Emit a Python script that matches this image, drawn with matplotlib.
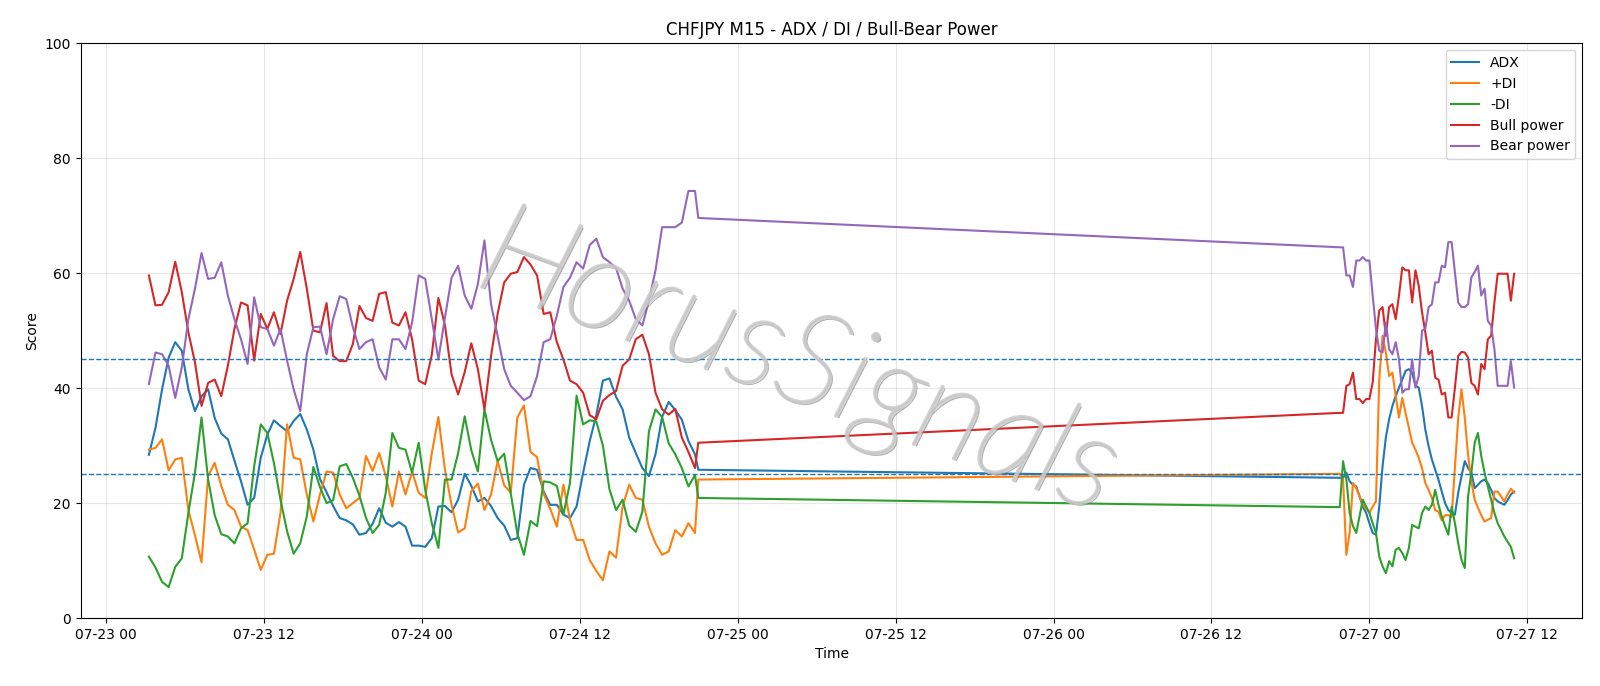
import matplotlib
matplotlib.use("Agg")
import matplotlib.pyplot as plt
import matplotlib.dates as mdates
import matplotlib.patheffects as pe
import pandas as pd

# time axis: thinned M15 bars for the first block, full M15 after the weekend gap
t1 = pd.date_range("2025-07-23 03:15", "2025-07-24 20:45", freq="30min")
t1 = t1.append(pd.DatetimeIndex(["2025-07-24 21:00"]))
t2 = pd.date_range("2025-07-26 21:45", "2025-07-27 11:00", freq="15min")
times = t1.append(t2)

adx = [28.4, 33.1, 39.8, 45.3, 48.0, 46.5, 39.8, 36.0, 38.6, 39.8, 34.8, 32.1, 31.1, 27.4, 23.8, 19.7, 20.9, 27.9, 31.9, 34.4, 33.4, 32.5,
       34.3, 35.5, 32.8, 29.3, 24.2, 21.9, 19.5, 17.4, 17.0, 16.3, 14.5, 14.8, 16.4, 19.1, 16.6, 15.9, 16.7, 15.9, 12.6, 12.6, 12.4,
       13.9, 19.4, 19.5, 18.4, 20.6, 25.1, 23.0, 20.3, 20.9, 19.5, 17.4, 16.1, 13.6, 13.9, 23.2, 26.1, 25.8, 22.0, 19.7, 19.7, 18.0,
       17.4, 19.4, 25.3, 30.8, 35.3, 41.3, 41.7, 38.5, 36.3, 31.4, 28.7, 26.1, 24.7, 28.5, 35.0, 37.6, 36.2, 34.5, 30.8, 28.5, 25.8,
       24.4, 24.4, 25.3, 23.8, 23.2, 22.9, 21.2, 19.4, 18.3, 16.5, 14.8, 14.5, 19.4, 26.4, 31.4, 34.6, 36.9, 38.6, 40.1, 41.5,
       43.0, 43.3, 42.7, 40.4, 40.1, 36.9, 32.8, 29.9, 27.6, 25.8, 24.1, 22.0, 20.0, 18.8, 18.3, 18.0, 21.8, 24.7, 27.3, 26.1,
       25.3, 22.6, 23.2, 23.8, 24.1, 23.5, 22.3, 20.9, 20.3, 20.0, 19.7, 20.5, 21.5, 22.0]

plus_di = [29.3, 29.6, 31.1, 25.7, 27.6, 27.9, 18.8, 14.4, 9.7, 24.7, 27.0, 23.0, 19.7, 18.8, 15.9, 15.3, 11.9, 8.4, 11.0, 11.2, 18.3, 33.7,
           27.9, 27.6, 21.5, 16.8, 21.5, 25.5, 25.3, 21.5, 19.1, 20.0, 20.9, 28.2, 25.6, 28.7, 24.7, 19.4, 25.5, 21.5, 25.5, 21.8, 20.9,
           28.7, 35.0, 25.8, 19.7, 14.9, 15.6, 22.1, 23.4, 18.8, 21.5, 27.3, 23.1, 21.8, 34.9, 37.0, 28.9, 28.0, 21.6, 19.0, 15.9, 23.2,
           17.1, 13.6, 13.6, 10.1, 8.2, 6.6, 11.6, 10.5, 19.4, 23.2, 20.9, 20.6, 15.9, 13.0, 11.0, 11.6, 15.3, 14.2, 16.5, 14.8, 24.1,
           25.1, 24.1, 11.0, 14.8, 23.5, 22.6, 21.2, 19.7, 19.1, 18.3, 19.4, 20.3, 41.5, 49.1, 46.2, 42.1, 42.7, 38.6, 34.9, 38.3,
           35.7, 33.1, 30.5, 29.3, 27.9, 26.1, 23.5, 22.3, 20.9, 18.8, 18.5, 17.0, 17.9, 17.9, 17.6, 26.1, 34.8, 39.8, 34.8, 28.4,
           23.8, 20.6, 19.2, 17.9, 16.8, 17.1, 17.4, 22.0, 22.0, 21.2, 20.3, 21.5, 22.5, 21.8]

minus_di = [10.7, 8.8, 6.3, 5.4, 8.9, 10.4, 18.3, 25.3, 34.9, 24.1, 17.9, 14.6, 14.2, 13.0, 15.6, 16.5, 26.4, 33.7, 32.2, 27.0, 20.6, 15.1,
            11.2, 13.0, 17.7, 26.3, 22.8, 20.0, 20.5, 26.4, 26.8, 24.4, 21.3, 17.4, 14.8, 16.2, 21.8, 32.2, 29.6, 29.3, 25.3, 30.5, 22.3,
            16.5, 12.2, 24.1, 24.1, 28.7, 35.1, 29.2, 25.5, 36.3, 31.0, 27.3, 28.6, 21.6, 14.7, 11.0, 16.9, 16.0, 23.8, 23.6, 23.0, 18.0,
            23.5, 38.7, 33.7, 34.4, 34.2, 30.0, 22.4, 18.8, 20.6, 16.1, 15.0, 18.5, 32.5, 36.3, 35.0, 30.4, 28.5, 26.1, 22.9, 24.9, 20.9,
            19.3, 27.3, 24.1, 18.3, 16.0, 14.8, 17.7, 20.6, 19.4, 18.3, 16.5, 14.8, 10.7, 9.0, 7.8, 9.9, 9.0, 11.9, 12.2, 11.3,
            10.1, 12.2, 16.2, 15.9, 15.6, 18.3, 19.4, 18.8, 19.7, 22.3, 19.7, 17.7, 16.0, 14.5, 19.4, 16.5, 13.0, 10.1, 8.7, 21.2,
            25.3, 30.5, 32.2, 28.2, 25.3, 22.9, 20.6, 18.3, 16.5, 15.4, 14.2, 13.3, 12.4, 10.4]

bull = [59.6, 54.4, 54.5, 56.7, 62.0, 56.7, 49.7, 44.5, 36.9, 40.9, 41.5, 38.6, 43.9, 50.3, 54.9, 54.4, 44.8, 52.9, 50.3, 53.2, 49.4, 55.2,
        59.0, 63.7, 57.3, 50.0, 49.7, 54.8, 45.6, 44.7, 44.7, 47.7, 54.3, 52.2, 51.7, 56.4, 56.7, 51.4, 50.9, 53.2, 48.5, 41.3, 40.7,
        45.8, 55.7, 50.9, 42.4, 38.9, 42.8, 47.8, 43.3, 36.3, 45.6, 52.9, 58.4, 59.9, 60.2, 62.8, 61.5, 59.6, 52.9, 53.2, 48.0, 45.0,
        41.3, 40.7, 39.2, 35.3, 34.6, 37.8, 38.8, 39.5, 43.9, 45.0, 48.5, 49.3, 45.9, 39.2, 36.3, 35.4, 36.4, 31.4, 28.9, 26.1, 30.5,
        35.7, 35.7, 40.4, 40.7, 42.7, 38.1, 38.1, 37.4, 38.1, 38.1, 41.0, 48.5, 53.5, 54.1, 49.1, 54.1, 54.6, 52.0, 56.1, 61.0,
        60.5, 60.5, 54.9, 60.5, 57.8, 53.2, 49.7, 45.9, 46.5, 41.8, 41.5, 38.9, 39.2, 34.9, 34.9, 40.1, 45.6, 46.3, 46.2, 45.3,
        40.9, 40.4, 38.9, 44.2, 43.3, 48.5, 49.1, 54.9, 59.9, 59.9, 59.9, 59.9, 55.2, 59.9]

bear = [40.7, 46.2, 45.9, 43.9, 38.3, 43.6, 52.0, 57.3, 63.5, 59.0, 59.2, 61.9, 56.1, 52.0, 48.5, 44.2, 55.8, 50.6, 50.3, 47.4, 50.3, 44.8,
        39.8, 36.0, 45.9, 50.6, 50.7, 45.9, 52.0, 56.0, 55.5, 50.6, 46.8, 48.0, 48.5, 43.6, 41.5, 48.5, 48.5, 46.8, 51.4, 59.6, 59.0,
        52.0, 45.0, 52.3, 59.2, 61.3, 56.1, 53.8, 58.1, 65.7, 54.6, 49.1, 43.3, 40.4, 39.2, 37.9, 38.6, 42.1, 48.0, 48.5, 52.6, 57.6,
        59.2, 61.9, 60.8, 64.9, 66.0, 62.8, 61.9, 60.9, 57.3, 55.2, 52.0, 50.9, 55.2, 60.5, 68.0, 68.0, 68.0, 68.8, 74.3, 74.3, 69.6,
        64.5, 64.5, 59.6, 59.6, 57.6, 62.2, 62.2, 62.8, 62.2, 62.2, 56.1, 50.3, 46.5, 46.2, 51.4, 46.8, 45.9, 48.0, 45.0, 39.2,
        39.8, 39.8, 45.0, 40.1, 42.1, 50.0, 50.3, 54.1, 54.6, 58.4, 58.4, 61.3, 61.0, 65.4, 65.4, 60.2, 54.9, 54.1, 54.1, 54.6,
        59.3, 60.2, 61.3, 56.1, 57.3, 51.7, 50.9, 46.8, 40.4, 40.4, 40.4, 40.4, 44.7, 40.1]

fig, ax = plt.subplots(figsize=(16, 6.86), dpi=100)
fig.subplots_adjust(left=0.0504, right=0.989, top=0.937, bottom=0.099)

ax.plot(times, adx, label="ADX")
ax.plot(times, plus_di, label="+DI")
ax.plot(times, minus_di, label="-DI")
ax.plot(times, bull, label="Bull power")
ax.plot(times, bear, label="Bear power")
ax.axhline(45, linestyle="--", linewidth=1)
ax.axhline(25, linestyle="--", linewidth=1)

ax.set_ylim(0, 100)
ax.set_title("CHFJPY M15 - ADX / DI / Bull-Bear Power")
ax.set_xlabel("Time")
ax.set_ylabel("Score")
ax.grid(True, alpha=0.3)
ax.legend(loc="upper right")
ax.xaxis.set_major_locator(mdates.HourLocator(byhour=[0, 12]))
ax.xaxis.set_major_formatter(mdates.DateFormatter("%m-%d %H"))

# watermark
ax.text(0.478, 0.44, "HorusSignals", transform=ax.transAxes, ha="center", va="center",
        rotation=-20, fontsize=94, style="italic", weight="light",
        family=["Lato", "DejaVu Sans"], color="#c8c8c8", alpha=0.8, zorder=10,
        path_effects=[pe.SimplePatchShadow(offset=(1.5, -1.5), shadow_rgbFace="#7a7a7a", alpha=0.6),
                      pe.Stroke(linewidth=2.2, foreground="#c8c8c8"), pe.Normal()])

fig.savefig("out.png")
